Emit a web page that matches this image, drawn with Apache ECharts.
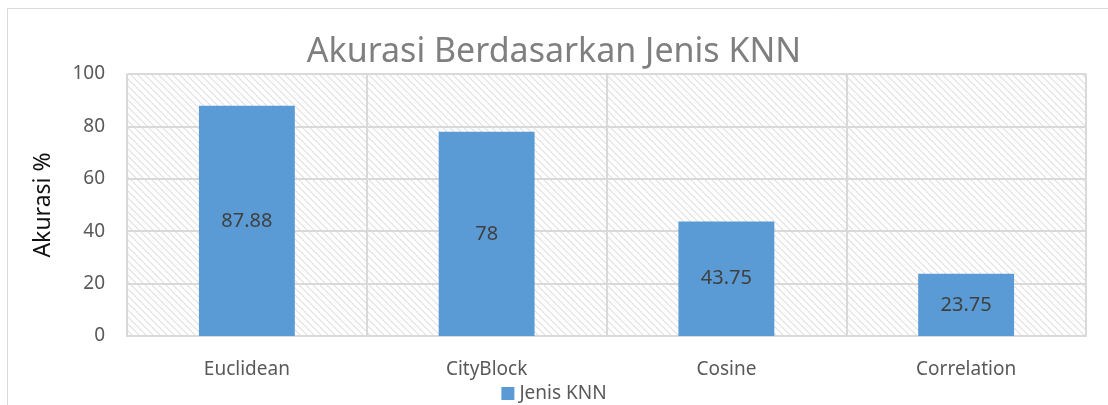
<!DOCTYPE html>
<html>
<head>
<meta charset="utf-8">
<script src="https://cdn.jsdelivr.net/npm/echarts@6/dist/echarts.min.js"></script>
<style>
  html, body { margin: 0; padding: 0; background: #fff; }
  #chart { width: 1108px; height: 405px; }
</style>
</head>
<body>
<div id="chart"></div>
<script>
const categories = ['Euclidean', 'CityBlock', 'Cosine', 'Correlation'];
const akurasi = [87.88, 78, 43.75, 23.75];
const yTicks = [0, 20, 40, 60, 80, 100];

// hatched plot background tile
function hatchTile() {
  const n = 7;
  const c = document.createElement('canvas');
  c.width = n; c.height = n;
  const ctx = c.getContext('2d');
  ctx.fillStyle = '#ffffff';
  ctx.fillRect(0, 0, n, n);
  ctx.strokeStyle = '#e0e0e0';
  ctx.lineWidth = 1.2;
  ctx.beginPath();
  ctx.moveTo(-1, -1); ctx.lineTo(n + 1, n + 1);
  ctx.moveTo(-1, n - 1); ctx.lineTo(1, n + 1);
  ctx.moveTo(n - 1, -1); ctx.lineTo(n + 1, 1);
  ctx.stroke();
  return c;
}

const font = '"Noto Sans", sans-serif';
const chart = echarts.init(document.getElementById('chart'), null, { renderer: 'canvas' });

chart.setOption({
  animation: false,
  textStyle: { fontFamily: font },
  title: {
    text: 'Akurasi Berdasarkan Jenis KNN',
    left: 'center',
    top: 30,
    textStyle: { fontFamily: font, fontSize: 34, fontWeight: 'normal', color: '#7f7f7f' }
  },
  legend: {
    top: 379,
    left: 'center',
    icon: 'rect',
    itemWidth: 13,
    itemHeight: 13,
    itemGap: 5,
    textStyle: { fontFamily: font, fontSize: 19, color: '#595959' },
    data: ['Jenis KNN']
  },
  graphic: [{
    type: 'rect',
    silent: true,
    z: -10,
    shape: { x: 7.5, y: 8.5, width: 1120, height: 420 },
    style: { fill: 'none', stroke: '#d9d9d9', lineWidth: 1 }
  }],
  grid: {
    left: 127, right: 22, top: 74, bottom: 69,
    show: true,
    backgroundColor: { image: hatchTile(), repeat: 'repeat' },
    borderColor: '#d9d9d9',
    borderWidth: 1
  },
  xAxis: {
    type: 'category',
    data: categories,
    axisLine: { lineStyle: { color: '#d9d9d9', width: 2 } },
    axisTick: { show: false },
    splitLine: { show: true, lineStyle: { color: '#d9d9d9', width: 2 } },
    axisLabel: { fontFamily: font, fontSize: 19, color: '#595959', margin: 24 }
  },
  yAxis: {
    type: 'value',
    min: yTicks[0],
    max: yTicks[yTicks.length - 1],
    interval: 20,
    name: 'Akurasi %',
    nameLocation: 'middle',
    nameGap: 72,
    nameRotate: 90,
    nameTextStyle: { fontFamily: font, fontSize: 23, color: '#111' },
    axisLine: { show: false },
    axisTick: { show: false },
    splitLine: { lineStyle: { color: '#d9d9d9', width: 2 } },
    axisLabel: { fontFamily: font, fontSize: 19, color: '#595959', margin: 22 }
  },
  series: [{
    name: 'Jenis KNN',
    type: 'bar',
    data: akurasi,
    barWidth: '40%',
    itemStyle: { color: '#5b9bd5' },
    label: {
      show: true,
      position: 'inside',
      fontFamily: font,
      fontSize: 20,
      color: '#404040'
    }
  }]
});
</script>
</body>
</html>
